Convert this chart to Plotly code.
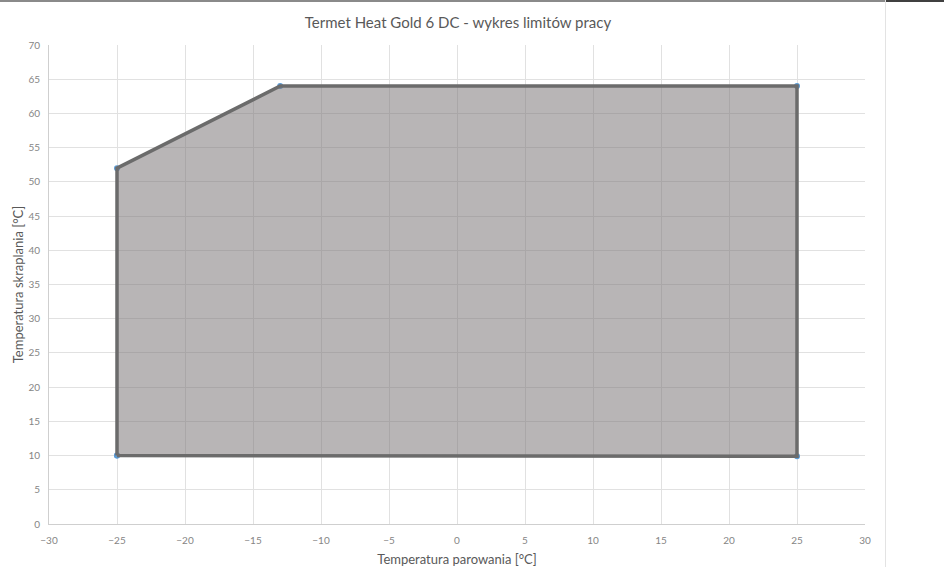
import plotly.graph_objects as go

# Operating envelope vertices (evaporating temp, condensing temp)
evap_temp = [-25, -25, -13, 25, 25, -25]
cond_temp = [10, 52, 64, 64, 9.9, 10]

title_text = "Termet Heat Gold 6 DC - wykres limitów pracy"
x_title = "Temperatura parowania [°C]"
y_title = "Temperatura skraplania [°C]"

W, H = 944, 567
L, R, T, B = 49, 79, 45, 43
pw, ph = W - L - R, H - T - B


def px_x(x):
    return (x - L) / pw


def px_y(y):
    return 1 - (y - T) / ph


FONT = "Lato"

fig = go.Figure()

fig.add_trace(go.Scatter(
    x=evap_temp, y=cond_temp, mode="markers",
    marker=dict(color="#5b9bd5", size=6),
    showlegend=False, hoverinfo="skip"))

fig.add_trace(go.Scatter(
    x=evap_temp, y=cond_temp, mode="lines",
    fill="toself", fillcolor="rgba(118,113,115,0.52)",
    line=dict(color="#6b6b6b", width=3.5),
    showlegend=False))

axis_common = dict(
    showgrid=True, gridcolor="#e1e1e1", gridwidth=1,
    zeroline=False, showline=True, linecolor="#cfcfcf", linewidth=1,
    tickfont=dict(family=FONT, size=10, color="#858585"),
    ticks="", fixedrange=True, automargin=False)

fig.update_layout(
    width=W, height=H,
    margin=dict(l=L, r=R, t=T, b=B, autoexpand=False),
    paper_bgcolor="white", plot_bgcolor="white",
    title=dict(text=title_text, x=458 / W, xanchor="center",
               y=1 - 23 / H, yanchor="middle", automargin=False,
               font=dict(family=FONT, size=15, color="#595959")),
    xaxis=dict(range=[-30, 30], dtick=5, tick0=0,
               title=dict(text=x_title, standoff=9,
                          font=dict(family=FONT, size=13, color="#595959")),
               ticklabelstandoff=7,
               **axis_common),
    yaxis=dict(range=[0, 70], dtick=5, tick0=0,
               title=dict(text=y_title, standoff=1,
                          font=dict(family=FONT, size=13, color="#595959")),
               ticklabelstandoff=6,
               **axis_common),
    shapes=[
        dict(type="line", xref="paper", yref="paper",
             x0=px_x(0), x1=px_x(886), y0=px_y(1), y1=px_y(1),
             line=dict(color="#8a8a8a", width=2)),
        dict(type="line", xref="paper", yref="paper",
             x0=px_x(886), x1=px_x(944), y0=px_y(1), y1=px_y(1),
             line=dict(color="#404040", width=2)),
        dict(type="line", xref="paper", yref="paper",
             x0=px_x(885.5), x1=px_x(885.5), y0=px_y(0), y1=px_y(567),
             line=dict(color="#e3e3e3", width=1)),
    ],
)

fig.write_html("out.html",
               config={"displayModeBar": False},
               post_script="document.body.style.margin='0px';"
                           "document.body.style.padding='0px';")
